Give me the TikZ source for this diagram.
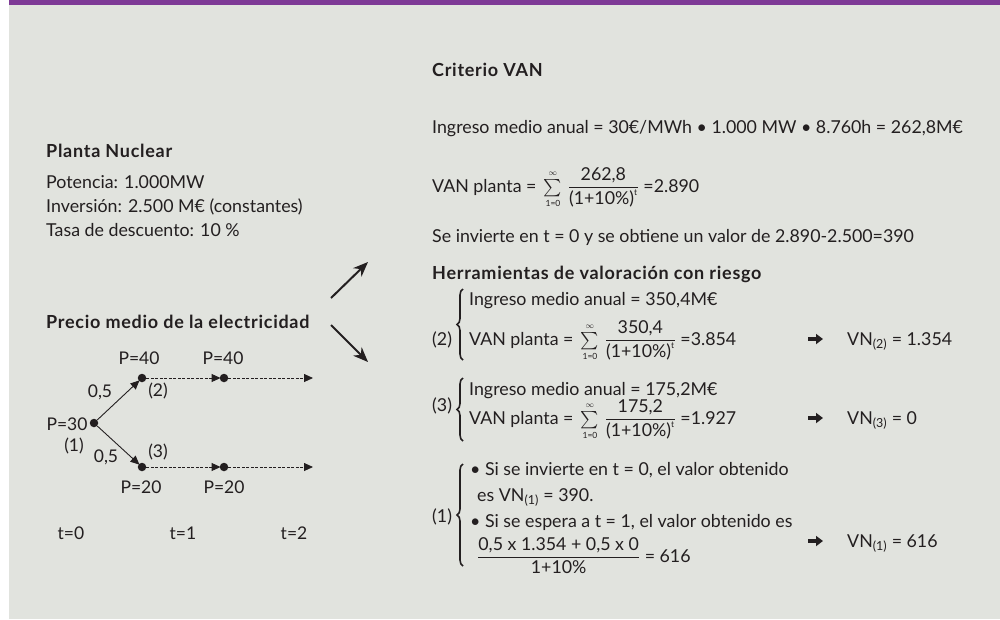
\documentclass[tikz,border=0pt]{standalone}
\usepackage{amsmath}
\usepackage{fontspec}
\setmainfont{Lato}
\newfontfamily\hdfont[LetterSpace=4]{Lato Bold}
\usetikzlibrary{arrows.meta,decorations.pathreplacing}
\definecolor{bg}{HTML}{E1E3DE}
\definecolor{band}{HTML}{7E3A96}
\definecolor{ink}{HTML}{231F20}
\newcommand\tinylim[1]{\text{\fontsize{8.5}{9}\selectfont #1}}
\newcommand\sumlim{\,\mathop{\textstyle\sum}\limits_{\tinylim{1=0}}^{\tinylim{$\infty$}}\,}
\begin{document}
\begin{tikzpicture}[x=1pt,y=-1pt,
  txt/.style={anchor=base west,inner sep=0pt,text=ink,font=\fontsize{17.8}{20}\selectfont},
  hd/.style={txt,font=\hdfont\fontsize{18}{20}\selectfont},
  lbl/.style={inner sep=0pt,text=ink,font=\fontsize{17.5}{20}\selectfont},
  pdot/.style={circle,fill=ink,inner sep=0pt,minimum size=8.5pt},
  treeline/.style={draw=ink,line width=0.9pt,-{Triangle[length=9pt,width=8pt]},shorten >=-1pt},
  treedash/.style={treeline,dash pattern=on 3pt off 1.5pt},
  bigarrow/.style={draw=ink,line width=2pt,-{Stealth[length=15pt,width=12pt]}},
  brc/.style={draw=ink,line width=1.6pt,decorate,decoration={brace,amplitude=6pt}},
  goarrow/.style={draw=ink,line width=3.2pt,-{Triangle[length=7pt,width=10pt]}},
]
\useasboundingbox (0,0) rectangle (1000,619);
\fill[white] (0,0) rectangle (1000,619);
\fill[bg] (9,0) rectangle (1000,619);
\fill[band] (9,0) rectangle (1000,5);

% left column
\node[hd] (plnt) at (46,157) {Planta Nuclear};
\node[txt] (pot) at (46,188) {Potencia: 1.000MW};
\node[txt] (inv) at (46,212) {Inversión: 2.500 M€ (constantes)};
\node[txt] (tasa) at (46,236) {Tasa de descuento: 10 \%};
\node[hd] (prec) at (46,328) {Precio medio de la electricidad};

% tree
\node[pdot] (n1) at (94,423) {};
\node[pdot] (n2) at (142,378) {};
\node[pdot] (n4) at (224,378) {};
\node[pdot] (n3) at (142,467) {};
\node[pdot] (n5) at (224,467) {};
\coordinate (e1) at (312,378);
\coordinate (e2) at (312,467);
\draw[treeline] (n1) -- (n2);
\draw[treeline] (n1) -- (n3);
\draw[treedash] (n2) -- (n4);
\draw[treedash] (n4) -- (e1);
\draw[treedash] (n3) -- (n5);
\draw[treedash] (n5) -- (e2);

\node[lbl] (p40a) at (139,358) {P=40};
\node[lbl] (p40b) at (223,358) {P=40};
\node[lbl] (k2) at (158,391) {(2)};
\node[lbl] (pa) at (100,392) {0,5};
\node[lbl] (p30) at (67,424) {P=30};
\node[lbl] (k1) at (74,446) {(1)};
\node[lbl] (pb) at (106,457) {0,5};
\node[lbl] (k3) at (158,452) {(3)};
\node[lbl] (p20a) at (141,487) {P=20};
\node[lbl] (p20b) at (224,487) {P=20};
\node[lbl] (t0) at (71,533) {t=0};
\node[lbl] (t1) at (183,533) {t=1};
\node[lbl] (t2) at (294,533) {t=2};

% middle arrows
\coordinate (a1s) at (331,298);
\coordinate (a1e) at (368,262);
\coordinate (a2s) at (331,325);
\coordinate (a2e) at (368,362);
\draw[bigarrow] (a1s) -- (a1e);
\draw[bigarrow] (a2s) -- (a2e);

% right column
\node[hd] (crit) at (432,76) {Criterio VAN};
\node[txt] (ing) at (432,133) {Ingreso medio anual = 30€/MWh • 1.000 MW • 8.760h = 262,8M€};
\node[txt] (van) at (432,192) {VAN planta = $\sumlim\dfrac{\text{262,8}}{\text{(1+10\%)}^{\tinylim{t}}}$ =2.890};
\node[txt] (inv0) at (432,242) {Se invierte en t = 0 y se obtiene un valor de 2.890-2.500=390};
\node[hd] (herr) at (432,279) {Herramientas de valoración con riesgo};

% block (2)
\coordinate (b2t) at (463,289);
\coordinate (b2b) at (463,360);
\draw[brc] (b2b) -- (b2t);
\node[txt] (l2) at (432,345) {(2)};
\node[txt] (ing2) at (469,305) {Ingreso medio anual = 350,4M€};
\node[txt] (van2) at (469,345) {VAN planta = $\sumlim\dfrac{\text{350,4}}{\text{(1+10\%)}^{\tinylim{t}}}$ =3.854};
\coordinate (g2s) at (808,339);
\coordinate (g2e) at (823,339);
\draw[goarrow] (g2s) -- (g2e);
\node[txt] (vn2) at (847,345) {VN\textsubscript{(2)} = 1.354};

% block (3)
\coordinate (b3t) at (463,378);
\coordinate (b3b) at (463,441);
\draw[brc] (b3b) -- (b3t);
\node[txt] (l3) at (432,411) {(3)};
\node[txt] (ing3) at (469,395) {Ingreso medio anual = 175,2M€};
\node[txt] (van3) at (469,424) {VAN planta = $\sumlim\dfrac{\text{175,2}}{\text{(1+10\%)}^{\tinylim{t}}}$ =1.927};
\coordinate (g3s) at (808,418);
\coordinate (g3e) at (823,418);
\draw[goarrow] (g3s) -- (g3e);
\node[txt] (vn3) at (847,424) {VN\textsubscript{(3)} = 0};

% block (1)
\coordinate (b1t) at (463,464);
\coordinate (b1b) at (463,566);
\draw[brc] (b1b) -- (b1t);
\node[txt] (l1) at (432,522) {(1)};
\node[txt] (s1) at (470,475) {• Si se invierte en t = 0, el valor obtenido};
\node[txt] (s1b) at (477,501) {es VN\textsubscript{(1)} = 390.};
\node[txt] (s2) at (470,527) {• Si se espera a t = 1, el valor obtenido es};
\node[txt] (fr) at (477,562) {$\dfrac{\text{0,5 x 1.354 + 0,5 x 0}}{\text{1+10\%}}$ = 616};
\coordinate (g1s) at (808,541);
\coordinate (g1e) at (823,541);
\draw[goarrow] (g1s) -- (g1e);
\node[txt] (vn1) at (847,547) {VN\textsubscript{(1)} = 616};
\end{tikzpicture}
\end{document}
